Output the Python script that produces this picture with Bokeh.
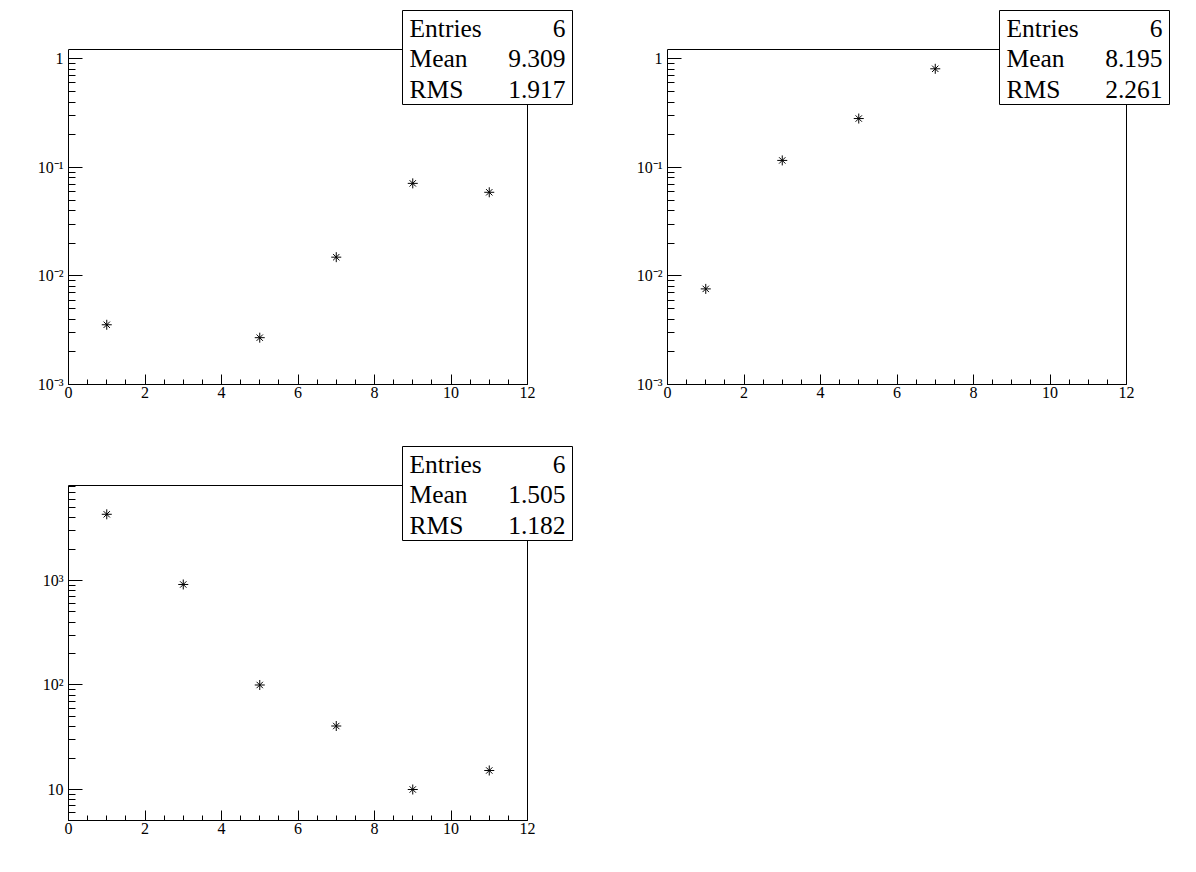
import math
from bokeh.plotting import figure
from bokeh.layouts import column, row
from bokeh.models import (FixedTicker, CustomJSTickFormatter, BoxAnnotation, Label,
                          Range1d)
from bokeh.embed import file_html
from bokeh.resources import INLINE

# ---------------- data ----------------
x1 = [1, 5, 7, 9, 11]
y1 = [0.00355, 0.0027, 0.0149, 0.0713, 0.059]

x2 = [1, 3, 5, 7]
y2 = [0.0076, 0.116, 0.282, 0.81]

x3 = [1, 3, 5, 7, 9, 11]
y3 = [4300, 916, 100, 40.5, 10, 15.2]

stat_labels = ["Entries", "Mean", "RMS"]
stats1 = ["6", "9.309", "1.917"]
stats2 = ["6", "8.195", "2.261"]
stats3 = ["6", "1.505", "1.182"]

x_lim = (0, 12)
x_major = [0, 2, 4, 6, 8, 10, 12]
x_minor = [i * 0.5 for i in range(0, 25)]

FONT = "Liberation Serif"
IW, IH = 459, 335        # inner (visible) frame size
TOP_EXTRA = 44           # space above inner frame for the stat box

fmt_code = """
const e = Math.round(Math.log10(tick));
if (e === 0) return "1";
if (e === 1) return "10";
const m = {"-":"\\u207b","0":"\\u2070","1":"\\u00b9","2":"\\u00b2","3":"\\u00b3","4":"\\u2074",
           "5":"\\u2075","6":"\\u2076","7":"\\u2077","8":"\\u2078","9":"\\u2079"};
return "10" + String(e).split("").map(c => m[c]).join("");
"""


def make_panel(xs, ys, ylim, exps, stats, width, right_extra, bottom, box_left):
    left = 68
    OW = IW + right_extra
    OH = IH + TOP_EXTRA
    right = width - left - OW
    height = 5 + OH + bottom
    x_end = x_lim[0] + (x_lim[1] - x_lim[0]) * OW / IW
    l0, l1 = math.log10(ylim[0]), math.log10(ylim[1])
    y_end = 10 ** (l0 + (l1 - l0) * OH / IH)

    p = figure(width=width, height=height, y_axis_type="log", output_backend="svg",
               toolbar_location=None, x_range=Range1d(x_lim[0], x_end),
               y_range=Range1d(ylim[0], y_end),
               min_border_left=left, min_border_right=right,
               min_border_top=5, min_border_bottom=bottom)
    p.grid.visible = False
    p.outline_line_color = None
    p.background_fill_color = "white"
    p.border_fill_color = "white"

    xa = p.xaxis[0]
    xa.bounds = x_lim
    xa.ticker = FixedTicker(ticks=x_major, minor_ticks=x_minor)
    xa.major_tick_in = 10
    xa.major_tick_out = 0
    xa.minor_tick_in = 5
    xa.minor_tick_out = 0
    xa.major_label_standoff = 2
    xa.major_label_text_font = FONT
    xa.major_label_text_font_size = "16px"
    xa.major_label_text_color = "black"
    xa.axis_line_color = "black"
    xa.major_tick_line_color = "black"
    xa.minor_tick_line_color = "black"

    ya = p.yaxis[0]
    ya.bounds = ylim
    majors = [10.0 ** e for e in exps]
    minors = [k * 10.0 ** e for e in [exps[0] - 1] + exps for k in range(2, 10)]
    minors = [m for m in minors if ylim[0] <= m <= ylim[1]]
    ya.ticker = FixedTicker(ticks=majors, minor_ticks=minors)
    ya.formatter = CustomJSTickFormatter(code=fmt_code)
    ya.major_tick_in = 14
    ya.major_tick_out = 0
    ya.minor_tick_in = 7
    ya.minor_tick_out = 0
    ya.major_label_standoff = 5
    ya.major_label_text_font = FONT
    ya.major_label_text_font_size = "16px"
    ya.major_label_text_color = "black"
    ya.axis_line_color = "black"
    ya.major_tick_line_color = "black"
    ya.minor_tick_line_color = "black"

    # visible frame: box over the plotted x/y limits
    p.add_layout(BoxAnnotation(left=x_lim[0], right=x_lim[1], bottom=ylim[0], top=ylim[1],
                               fill_alpha=0, line_color="black", line_width=1,
                               line_alpha=1.0))

    p.scatter(xs, ys, marker="cross", size=10, line_color="black", line_width=1)
    p.scatter(xs, ys, marker="x", size=9, line_color="black", line_width=1)

    # stat box (screen units, relative to the frame)
    btop, bbot = IH + 39, IH - 55
    bright = box_left + 170
    p.add_layout(BoxAnnotation(left=box_left, right=bright, top=btop, bottom=bbot,
                               left_units="screen", right_units="screen",
                               top_units="screen", bottom_units="screen",
                               fill_color="white", fill_alpha=1.0,
                               line_color="black", line_width=1, line_alpha=1.0))
    for i, (lab, val) in enumerate(zip(stat_labels, stats)):
        yy = btop - 17.5 - 30.5 * i
        p.add_layout(Label(x=box_left + 7, y=yy, x_units="screen", y_units="screen",
                           text=lab, text_font=FONT, text_font_size="25.5px",
                           text_baseline="middle", text_align="left",
                           text_color="black"))
        p.add_layout(Label(x=bright - 7, y=yy, x_units="screen", y_units="screen",
                           text=val, text_font=FONT, text_font_size="25.5px",
                           text_baseline="middle", text_align="right",
                           text_color="black"))
    return p


p1 = make_panel(x1, y1, (1e-3, 1.22), [-3, -2, -1, 0], stats1, 599, 53, 52, 334)
p2 = make_panel(x2, y2, (1e-3, 1.22), [-3, -2, -1, 0], stats2, 597, 54, 52, 332)
p3 = make_panel(x3, y3, (5.05, 8110), [1, 2, 3], stats3, 599, 53, 25, 334)

layout = column(row(p1, p2), p3)
open("out.html", "w").write(file_html(layout, INLINE))
